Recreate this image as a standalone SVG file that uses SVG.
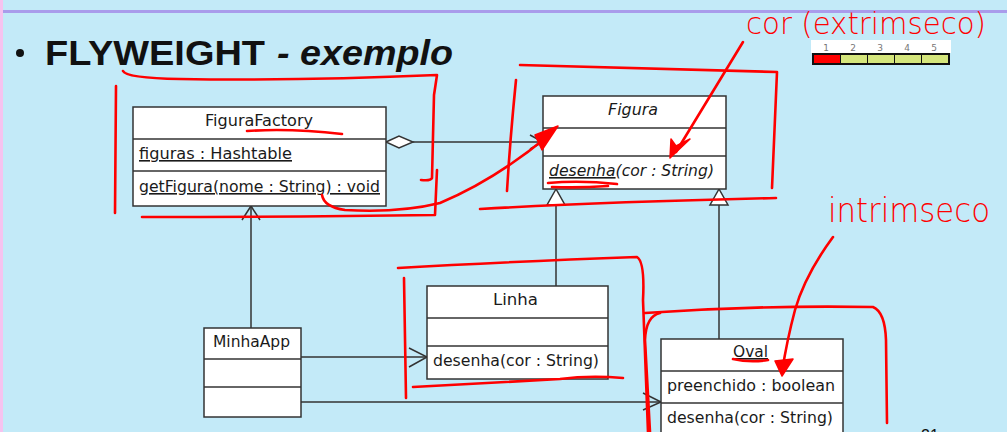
<svg xmlns="http://www.w3.org/2000/svg" width="1007" height="432" viewBox="0 0 1007 432">
<defs>
<style>
.box{fill:#fff;stroke:#333;stroke-width:1.5}
.sep{stroke:#333;stroke-width:1.5}
.ln{stroke:#333;stroke-width:1.5;fill:none}
.tri{fill:#fff;stroke:#333;stroke-width:1.5}
.t{font-family:"DejaVu Sans","Liberation Sans",sans-serif;font-size:16px;fill:#1a1a1a}
.red{stroke:#ff0000;stroke-width:2.6;fill:none;stroke-linecap:round;stroke-linejoin:round}
.redf{fill:#ff0000;stroke:#ff0000;stroke-width:1.5;stroke-linejoin:round}
.hand{font-family:"DejaVu Sans","Liberation Sans",sans-serif;fill:#ff0000;font-weight:200}
</style>
</defs>
<rect x="0" y="0" width="1007" height="432" fill="#c3eaf8"/>
<rect x="0" y="0" width="3" height="432" fill="#f6c3ef"/>
<rect x="3" y="10" width="1004" height="3" fill="#a99ceb"/>

<!-- title -->
<circle cx="20" cy="53" r="4" fill="#111"/>
<text x="45" y="65" font-family="Liberation Sans, Arial, sans-serif" font-size="35" font-weight="bold" fill="#111" textLength="220" lengthAdjust="spacingAndGlyphs">FLYWEIGHT</text>
<text x="277" y="65" font-family="Liberation Sans, Arial, sans-serif" font-size="35" font-weight="bold" font-style="italic" fill="#111" textLength="176" lengthAdjust="spacingAndGlyphs">- exemplo</text>

<!-- rating bar -->
<g id="rating">
<rect x="811" y="40" width="140" height="13" fill="#fff"/>
<g font-family="DejaVu Sans, sans-serif" font-size="9" fill="#777" text-anchor="middle">
<text x="826" y="51">1</text><text x="853" y="51">2</text><text x="880" y="51">3</text><text x="907" y="51">4</text><text x="934" y="51">5</text>
</g>
<rect x="812" y="53" width="138" height="12" fill="#111"/>
<rect x="814" y="55" width="26" height="8" fill="#ff0000"/>
<rect x="841" y="55" width="26" height="8" fill="#d5e67c"/>
<rect x="868" y="55" width="26" height="8" fill="#d5e67c"/>
<rect x="895" y="55" width="26" height="8" fill="#d5e67c"/>
<rect x="922" y="55" width="26" height="8" fill="#d5e67c"/>
</g>

<!-- connectors -->
<g id="connectors">
<polygon points="386,142 399,136 413,142 399,148" class="tri"/>
<line x1="413" y1="142" x2="543" y2="142" class="ln"/>
<polyline points="530,135 543,142 530,149" class="ln"/>
<line x1="556" y1="205" x2="556" y2="286" class="ln"/>
<polygon points="556,189 547,205 565,205" class="tri"/>
<line x1="719" y1="205" x2="719" y2="339" class="ln"/>
<polygon points="719,189 710,205 728,205" class="tri"/>
<line x1="251" y1="328" x2="251" y2="206" class="ln"/>
<polyline points="242,220 251,206 260,220" class="ln"/>
<line x1="299" y1="357" x2="427" y2="357" class="ln"/>
<polyline points="409,348 427,357 409,367" class="ln"/>
<line x1="299" y1="402" x2="661" y2="402" class="ln"/>
<polyline points="643,393 661,402 643,410" class="ln"/>
</g>

<!-- nodes -->
<g id="FiguraFactory">
<rect x="133" y="107" width="253" height="99" class="box"/>
<line x1="133" y1="139" x2="386" y2="139" class="sep"/>
<line x1="133" y1="171" x2="386" y2="171" class="sep"/>
<text x="205" y="126" class="t" textLength="108" lengthAdjust="spacingAndGlyphs">FiguraFactory</text>
<text x="139" y="159" class="t" text-decoration="underline" textLength="153" lengthAdjust="spacingAndGlyphs">figuras : Hashtable</text>
<text x="139" y="192" class="t" text-decoration="underline" textLength="241" lengthAdjust="spacingAndGlyphs">getFigura(nome : String) : void</text>
</g>
<g id="Figura">
<rect x="543" y="96" width="183" height="93" class="box"/>
<line x1="543" y1="128" x2="726" y2="128" class="sep"/>
<line x1="543" y1="156" x2="726" y2="156" class="sep"/>
<text x="608" y="115" class="t" font-style="italic" textLength="50" lengthAdjust="spacingAndGlyphs">Figura</text>
<text x="549" y="176" class="t" font-style="italic" textLength="165" lengthAdjust="spacingAndGlyphs"><tspan text-decoration="underline">desenha</tspan>(cor : String)</text>
</g>
<g id="Linha">
<rect x="427" y="286" width="181" height="93" class="box"/>
<line x1="427" y1="318" x2="608" y2="318" class="sep"/>
<line x1="427" y1="346" x2="608" y2="346" class="sep"/>
<text x="493" y="305" class="t" textLength="45" lengthAdjust="spacingAndGlyphs">Linha</text>
<text x="433" y="366" class="t" textLength="166" lengthAdjust="spacingAndGlyphs">desenha(cor : String)</text>
</g>
<g id="MinhaApp">
<rect x="204" y="328" width="97" height="89" class="box"/>
<line x1="204" y1="359" x2="301" y2="359" class="sep"/>
<line x1="204" y1="387" x2="301" y2="387" class="sep"/>
<text x="213" y="347" class="t" textLength="77" lengthAdjust="spacingAndGlyphs">MinhaApp</text>
</g>
<g id="Oval">
<rect x="661" y="339" width="182" height="110" class="box"/>
<line x1="661" y1="371" x2="843" y2="371" class="sep"/>
<line x1="661" y1="403" x2="843" y2="403" class="sep"/>
<text x="733" y="357" class="t" text-decoration="underline" textLength="35" lengthAdjust="spacingAndGlyphs">Oval</text>
<text x="667" y="391" class="t" textLength="168" lengthAdjust="spacingAndGlyphs">preenchido : boolean</text>
<text x="667" y="423" class="t" textLength="166" lengthAdjust="spacingAndGlyphs">desenha(cor : String)</text>
</g>

<text x="921" y="441" font-family="Liberation Sans, sans-serif" font-size="16" fill="#111">21</text>

<!-- red annotations -->
<g id="annotations">
<path class="red" d="M123,71 Q126,78 180,79 Q300,81 437,75 Q436,82 434,95 L432,178 Q431,181 421,180"/>
<path class="red" d="M116,86 L115,213"/>
<path class="red" d="M142,217 Q300,217 435,215 L437,170"/>
<path class="red" d="M247,131 Q290,128 342,134"/>
<path class="red" d="M322,195 Q324,207 345,210 Q400,213 440,203 Q495,180 548,136"/>
<polygon class="redf" points="558,126 535,135 542,150"/>
<path class="red" d="M520,65 L777,72 L772,188"/>
<path class="red" d="M516,80 Q510,140 507,191"/>
<path class="red" d="M480,209 Q600,202 776,198"/>
<path class="red" d="M548,183 Q580,180 617,184 M552,187 Q580,188 608,186"/>
<path class="red" d="M743,42 L676,152"/>
<polygon class="redf" points="670,158 671,139 676,146 690,139"/>
<path class="red" d="M398,268 Q500,262 637,257 Q645,262 643,300 L648,432"/>
<path class="red" d="M404,278 L406,398"/>
<path class="red" d="M413,387 Q520,381 560,379 Q590,375 623,378"/>
<path class="red" d="M660,313 Q646,316 645,340 L650,432"/>
<path class="red" d="M645,313 Q760,305 873,307 Q885,312 886,340 L887,423"/>
<path class="red" d="M833,237 Q805,275 795,310 Q787,340 782,372"/>
<polygon class="redf" points="775,361 793,359 782,376"/>
<path class="red" d="M733,359 Q750,363 768,360"/>
<text class="hand" x="746" y="34" font-size="31" textLength="240" lengthAdjust="spacingAndGlyphs">cor (extrimseco)</text>
<text class="hand" x="828" y="222" font-size="34" textLength="162" lengthAdjust="spacingAndGlyphs">intrimseco</text>
</g>
</svg>
